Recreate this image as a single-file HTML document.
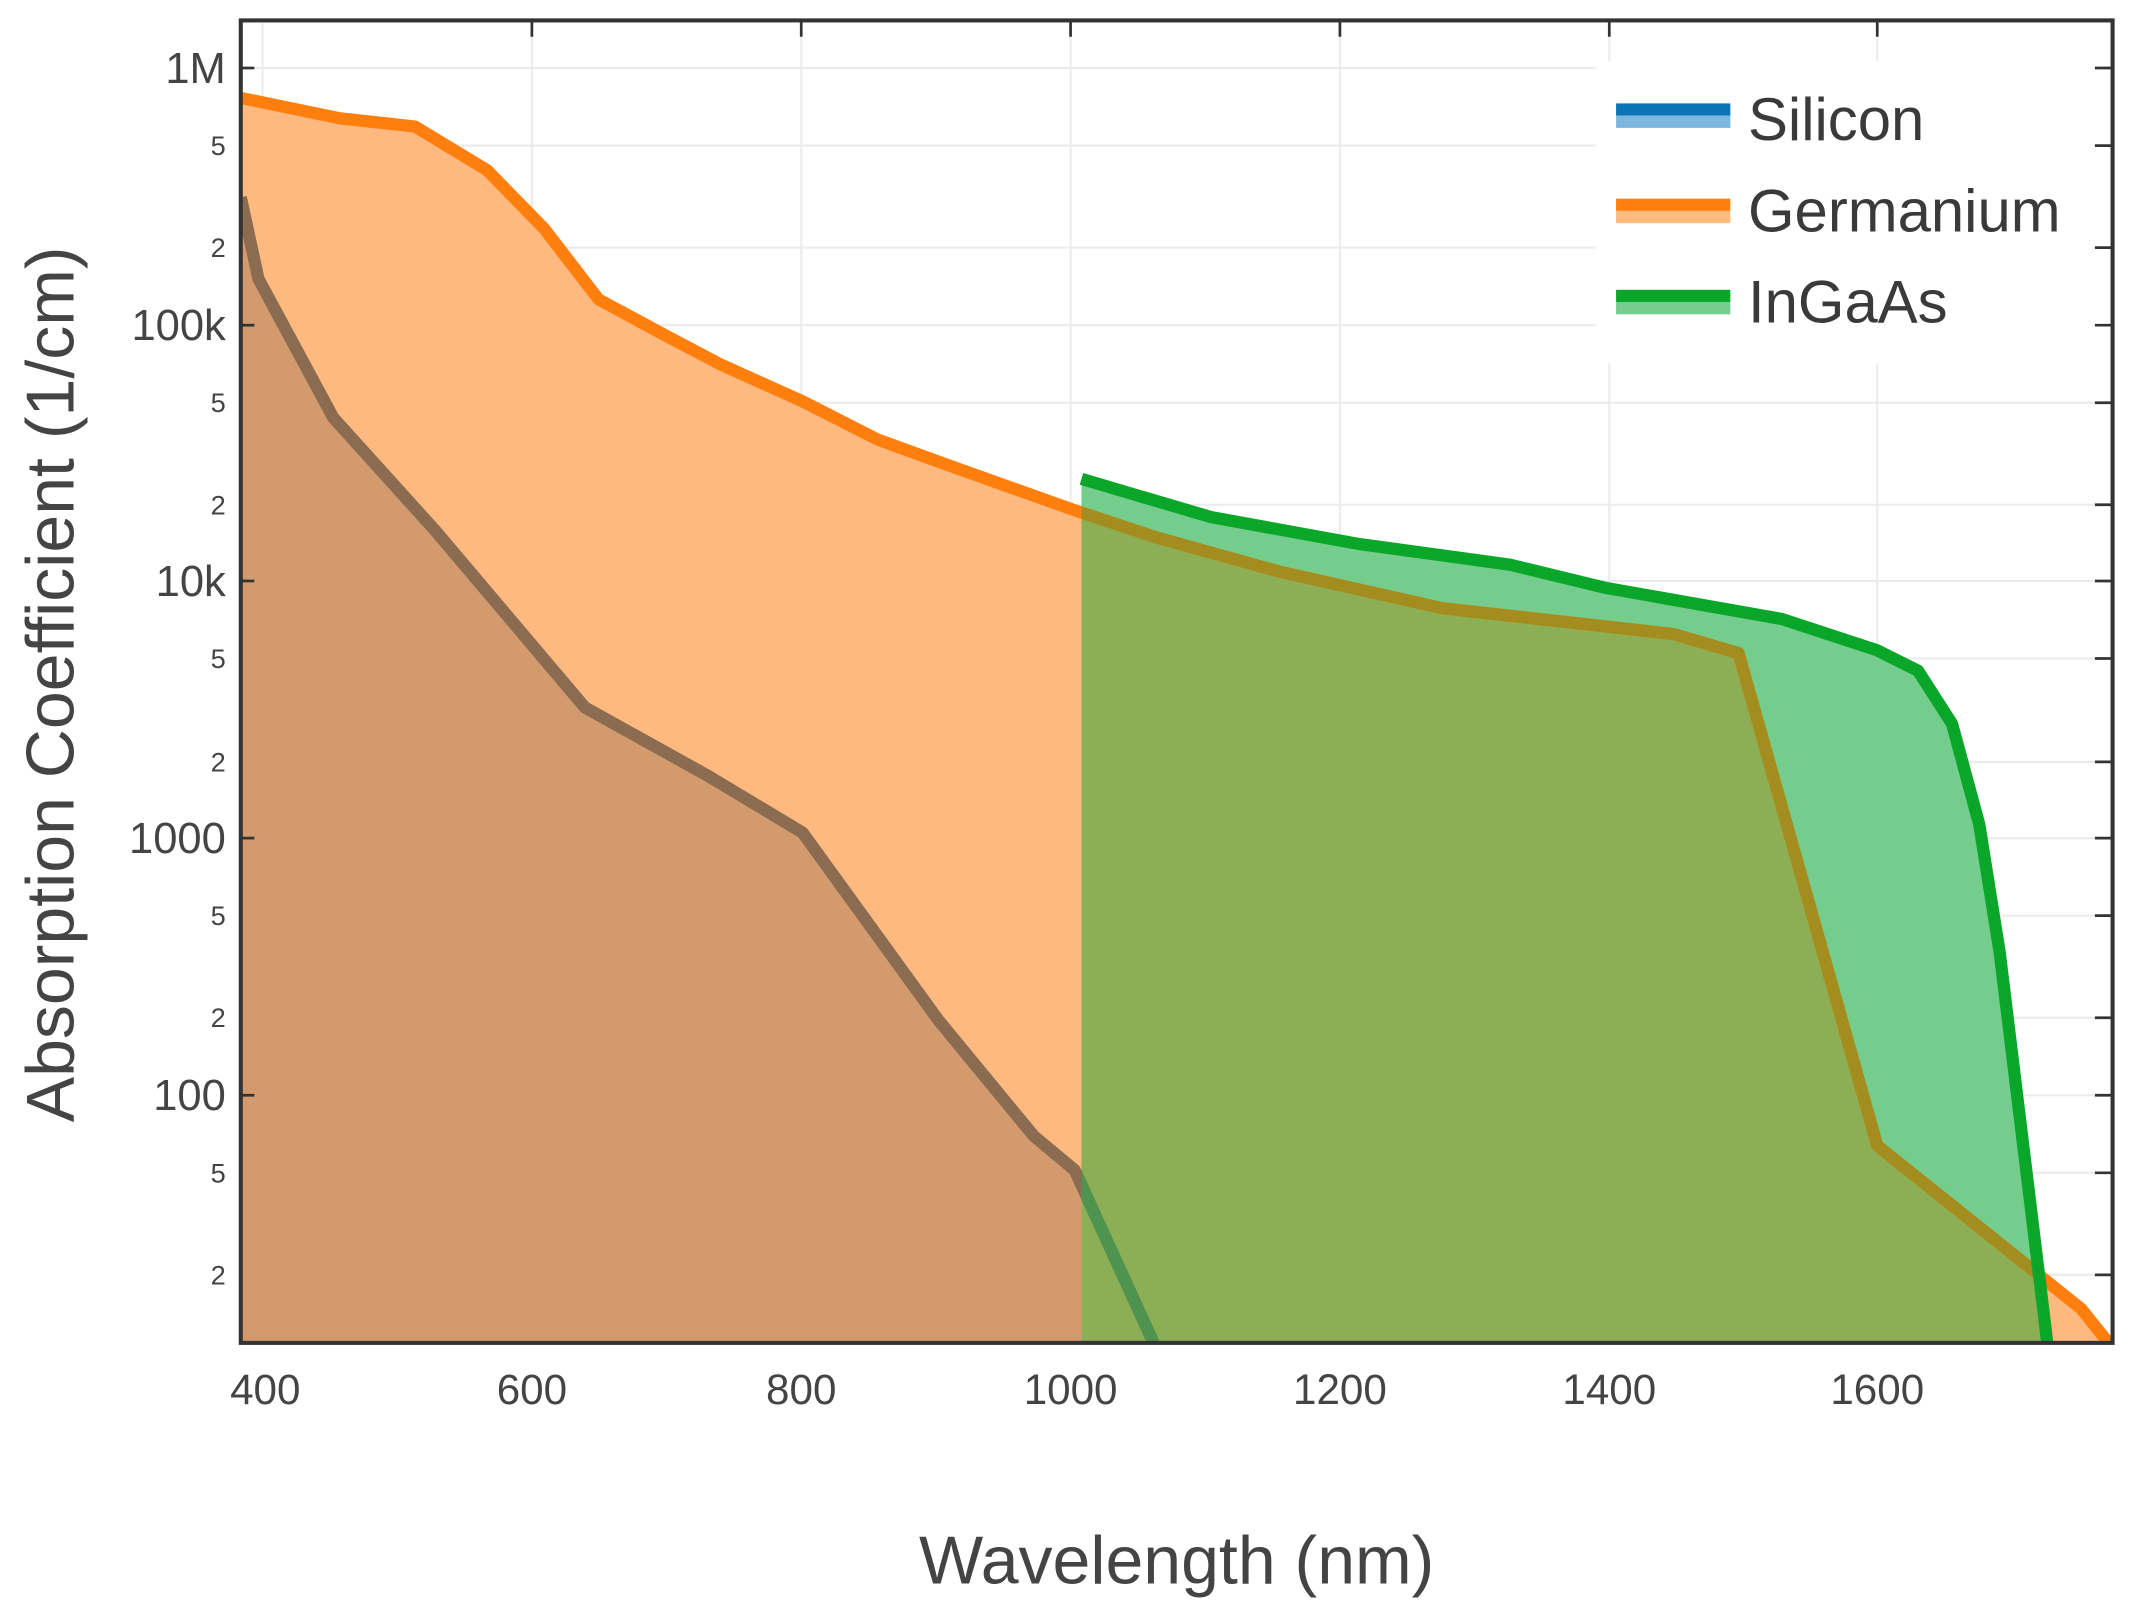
<!DOCTYPE html>
<html><head><style>html,body{margin:0;padding:0;background:#fff}svg{display:block}</style></head>
<body>
<svg width="2133" height="1615" viewBox="0 0 1568 1187" preserveAspectRatio="none" xmlns="http://www.w3.org/2000/svg" font-family="Liberation Sans, sans-serif">
<defs>
<clipPath id="plot"><rect x="177" y="15" width="1376" height="972"/></clipPath>
<clipPath id="green"><polygon points="795,352 890,380 1000,400 1110,415 1180,432 1310,455 1380,478 1410,493 1435,532 1455,606 1470,700 1505,987 795,987"/></clipPath>
</defs>
<rect width="1568" height="1187" fill="#fff"/>
<g stroke="#ebebeb" stroke-width="1.5">
<line x1="193" y1="15" x2="193" y2="987"/><line x1="391" y1="15" x2="391" y2="987"/><line x1="589" y1="15" x2="589" y2="987"/><line x1="787" y1="15" x2="787" y2="987"/><line x1="985" y1="15" x2="985" y2="987"/><line x1="1183" y1="15" x2="1183" y2="987"/><line x1="1380" y1="15" x2="1380" y2="987"/>
<line x1="177" y1="50" x2="1553" y2="50"/><line x1="177" y1="107" x2="1553" y2="107"/><line x1="177" y1="182" x2="1553" y2="182"/><line x1="177" y1="239" x2="1553" y2="239"/><line x1="177" y1="296" x2="1553" y2="296"/><line x1="177" y1="371" x2="1553" y2="371"/><line x1="177" y1="427" x2="1553" y2="427"/><line x1="177" y1="484" x2="1553" y2="484"/><line x1="177" y1="560" x2="1553" y2="560"/><line x1="177" y1="616" x2="1553" y2="616"/><line x1="177" y1="673" x2="1553" y2="673"/><line x1="177" y1="748" x2="1553" y2="748"/><line x1="177" y1="805" x2="1553" y2="805"/><line x1="177" y1="862" x2="1553" y2="862"/><line x1="177" y1="937" x2="1553" y2="937"/>
</g>
<g clip-path="url(#plot)">
<polygon fill="#fdb97f" points="177,72 250,87 305,93 358,125 400,168 440,220 490,247 530,268 590,295 645,323 700,343 790,375 850,395 940,420 1060,447 1230,466 1278,480 1380,842 1490,930 1530,962 1550,987 177,987"/>
<polygon fill="#d39a6e" points="177,145 190,205 245,307 320,390 430,520 520,570 590,612 690,750 760,835 790,860 848,987 177,987"/>
<polygon fill="#74cc8d" points="795,352 890,380 1000,400 1110,415 1180,432 1310,455 1380,478 1410,493 1435,532 1455,606 1470,700 1505,987 795,987"/>
<g clip-path="url(#green)">
<polygon fill="#8cae55" points="177,72 250,87 305,93 358,125 400,168 440,220 490,247 530,268 590,295 645,323 700,343 790,375 850,395 940,420 1060,447 1230,466 1278,480 1380,842 1490,930 1530,962 1550,987 177,987"/>
</g>
<polyline fill="none" stroke="#ff7f0e" stroke-width="9" stroke-linejoin="round" points="177,72 250,87 305,93 358,125 400,168 440,220 490,247 530,268 590,295 645,323 700,343 790,375 850,395 940,420 1060,447 1230,466 1278,480 1380,842 1490,930 1530,962 1550,987"/>
<polyline fill="none" stroke="#8b6c50" stroke-width="9" stroke-linejoin="round" points="177,145 190,205 245,307 320,390 430,520 520,570 590,612 690,750 760,835 790,860 848,987"/>
<g clip-path="url(#green)">
<polyline fill="none" stroke="#a28d1e" stroke-width="9" stroke-linejoin="round" points="177,72 250,87 305,93 358,125 400,168 440,220 490,247 530,268 590,295 645,323 700,343 790,375 850,395 940,420 1060,447 1230,466 1278,480 1380,842 1490,930 1530,962 1550,987"/>
<polyline fill="none" stroke="#4e9450" stroke-width="9" stroke-linejoin="round" points="177,145 190,205 245,307 320,390 430,520 520,570 590,612 690,750 760,835 790,860 848,987"/>
</g>
<polyline fill="none" stroke="#0aa62a" stroke-width="9" stroke-linejoin="round" points="795,352 890,380 1000,400 1110,415 1180,432 1310,455 1380,478 1410,493 1435,532 1455,606 1470,700 1505,987"/>
</g>
<rect x="1173" y="45" width="367" height="222" fill="#fff"/>
<rect x="1188" y="76" width="84" height="9" fill="#0a74b6"/><rect x="1188" y="85" width="84" height="9" fill="#7cb8dd"/>
<rect x="1188" y="146" width="84" height="9" fill="#ff7f0e"/><rect x="1188" y="155" width="84" height="9" fill="#fdbb80"/>
<rect x="1188" y="213" width="84" height="9" fill="#0aa62a"/><rect x="1188" y="222" width="84" height="9" fill="#77cc8f"/>
<g fill="#3a3a3a" font-size="44">
<text x="1285" y="103">Silicon</text><text x="1285" y="170">Germanium</text><text x="1285" y="237">InGaAs</text>
</g>
<rect x="177" y="15" width="1376" height="972" fill="none" stroke="#333" stroke-width="3"/>
<g stroke="#333" stroke-width="2">
<line x1="177" y1="50" x2="187" y2="50"/><line x1="177" y1="239" x2="187" y2="239"/><line x1="177" y1="427" x2="187" y2="427"/><line x1="177" y1="616" x2="187" y2="616"/><line x1="177" y1="805" x2="187" y2="805"/>
<line x1="1553" y1="50" x2="1540" y2="50"/><line x1="1553" y1="107" x2="1540" y2="107"/><line x1="1553" y1="182" x2="1540" y2="182"/><line x1="1553" y1="239" x2="1540" y2="239"/><line x1="1553" y1="296" x2="1540" y2="296"/><line x1="1553" y1="371" x2="1540" y2="371"/><line x1="1553" y1="427" x2="1540" y2="427"/><line x1="1553" y1="484" x2="1540" y2="484"/><line x1="1553" y1="560" x2="1540" y2="560"/><line x1="1553" y1="616" x2="1540" y2="616"/><line x1="1553" y1="673" x2="1540" y2="673"/><line x1="1553" y1="748" x2="1540" y2="748"/><line x1="1553" y1="805" x2="1540" y2="805"/><line x1="1553" y1="862" x2="1540" y2="862"/><line x1="1553" y1="937" x2="1540" y2="937"/>
<line x1="391" y1="15" x2="391" y2="27"/><line x1="589" y1="15" x2="589" y2="27"/><line x1="787" y1="15" x2="787" y2="27"/><line x1="985" y1="15" x2="985" y2="27"/><line x1="1183" y1="15" x2="1183" y2="27"/><line x1="1380" y1="15" x2="1380" y2="27"/>
</g>
<g fill="#444" font-size="32" text-anchor="end">
<text x="166" y="61">1M</text><text x="166" y="250">100k</text><text x="166" y="438">10k</text><text x="166" y="627">1000</text><text x="166" y="816">100</text>
</g>
<g fill="#444" font-size="20" text-anchor="end">
<text x="166" y="114">5</text><text x="166" y="189">2</text><text x="166" y="303">5</text><text x="166" y="378">2</text><text x="166" y="491">5</text><text x="166" y="567">2</text><text x="166" y="680">5</text><text x="166" y="755">2</text><text x="166" y="869">5</text><text x="166" y="944">2</text>
</g>
<g fill="#444" font-size="31" text-anchor="middle">
<text x="195" y="1032">400</text><text x="391" y="1032">600</text><text x="589" y="1032">800</text><text x="787" y="1032">1000</text><text x="985" y="1032">1200</text><text x="1183" y="1032">1400</text><text x="1380" y="1032">1600</text>
</g>
<text x="865" y="1164" fill="#444" font-size="50" text-anchor="middle">Wavelength (nm)</text>
<text transform="translate(54,503) rotate(-90)" fill="#444" font-size="50" text-anchor="middle">Absorption Coefficient (1/cm)</text>
</svg>
</body></html>
